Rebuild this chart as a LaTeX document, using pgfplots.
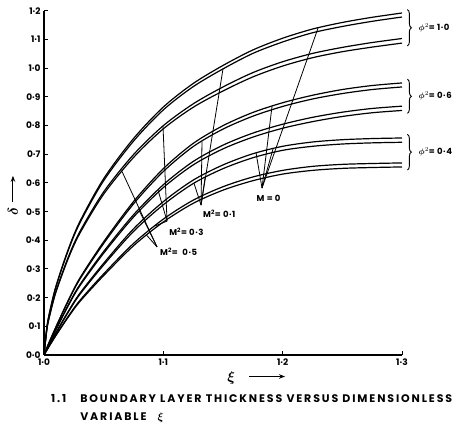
\documentclass[border=0pt]{standalone}
\usepackage{amsmath}
\usepackage{fontspec}
\setmainfont{Poppins}
\usepackage{pgfplots}
\usepackage{pgfplotstable}
\pgfplotsset{compat=1.18}
\usetikzlibrary{decorations.pathreplacing,arrows.meta}

% boundary layer thickness delta vs xi
% c1-c4: phi^2=1.0, c5-c8: phi^2=0.6, c9-c12: phi^2=0.4
\pgfplotstableread{
x      c1    c2    c3    c4    c5    c6    c7    c8    c9    c10   c11   c12
1.0    0     0     0     0     0     0     0     0     0     0     0     0
1.0025 0.100 0.099 0.093 0.091 0.026 0.026 0.024 0.023 0.020 0.020 0.018 0.017
1.005  0.155 0.153 0.143 0.141 0.051 0.050 0.047 0.046 0.040 0.039 0.035 0.035
1.01   0.240 0.237 0.222 0.219 0.098 0.097 0.090 0.088 0.078 0.076 0.069 0.068
1.02   0.365 0.361 0.338 0.333 0.188 0.185 0.172 0.169 0.150 0.147 0.133 0.130
1.03   0.465 0.460 0.430 0.424 0.268 0.264 0.245 0.241 0.215 0.211 0.190 0.186
1.05   0.615 0.608 0.569 0.561 0.395 0.389 0.361 0.355 0.320 0.314 0.283 0.277
1.075  0.755 0.746 0.699 0.689 0.535 0.527 0.489 0.481 0.440 0.431 0.389 0.381
1.1    0.865 0.855 0.800 0.789 0.650 0.640 0.594 0.584 0.535 0.524 0.474 0.464
1.125  0.947 0.936 0.876 0.864 0.738 0.727 0.675 0.663 0.610 0.598 0.540 0.529
1.15   1.010 0.998 0.935 0.921 0.800 0.788 0.732 0.719 0.663 0.650 0.587 0.575
1.175  1.064 1.052 0.985 0.970 0.846 0.833 0.774 0.760 0.702 0.688 0.621 0.608
1.2    1.105 1.092 1.023 1.008 0.880 0.867 0.805 0.791 0.728 0.714 0.644 0.631
1.225  1.137 1.124 1.052 1.037 0.906 0.893 0.829 0.814 0.743 0.728 0.658 0.644
1.25   1.160 1.146 1.073 1.058 0.926 0.912 0.847 0.832 0.751 0.736 0.665 0.651
1.275  1.178 1.164 1.090 1.074 0.940 0.926 0.860 0.845 0.755 0.740 0.668 0.654
1.3    1.193 1.179 1.104 1.088 0.949 0.935 0.868 0.853 0.757 0.742 0.670 0.656
}\deltadata

\newfontfamily\capfont[LetterSpace=17]{Poppins}

\begin{document}
\begin{tikzpicture}[lab/.style={font=\fontsize{8.5}{10}\selectfont\bfseries\addfontfeatures{LetterSpace=6}, inner sep=1pt}]
\begin{axis}[
  scale only axis, width=358pt, height=344pt,
  xmin=1, xmax=1.3, ymin=0, ymax=1.2,
  axis x line=bottom, axis y line=left,
  axis line style={-, line width=1.3pt},
  xtick={1,1.1,1.2,1.3}, xticklabels={1·0,1·1,1·2,1·3},
  ytick={0,0.1,0.2,0.3,0.4,0.5,0.6,0.7,0.8,0.9,1.0,1.1,1.2},
  yticklabels={0·0,0·1,0·2,0·3,0·4,0·5,0·6,0·7,0·8,0·9,1·0,1·1,1·2},
  tick align=inside, major tick length=4pt,
  tick style={black, line width=1pt},
  tick label style={font=\fontsize{9}{10}\selectfont\bfseries},
  clip=false,
  cycle list={{black, solid}},
  every axis plot/.append style={line width=1.2pt, no markers, smooth, tension=0.5},
]
\foreach \c in {c1,c2,c3,c4,c5,c6,c7,c8,c9,c10,c11,c12}{
  \addplot table[x=x, y=\c]{\deltadata};
}

% leader lines
\begin{scope}[line width=0.8pt]
% M = 0
\draw (axis cs:1.1827,0.5825) -- (axis cs:1.1777,0.705);
\draw (axis cs:1.1827,0.5825) -- (axis cs:1.1920,0.720);
\draw (axis cs:1.1827,0.5825) -- (axis cs:1.1911,0.868);
\draw (axis cs:1.1827,0.5825) -- (axis cs:1.2297,1.141);
% M^2 = 0.1
\draw (axis cs:1.1316,0.523) -- (axis cs:1.1257,0.599);
\draw (axis cs:1.1316,0.523) -- (axis cs:1.1350,0.619);
\draw (axis cs:1.1316,0.523) -- (axis cs:1.1324,0.745);
\draw (axis cs:1.1316,0.523) -- (axis cs:1.1500,0.998);
% M^2 = 0.3
\draw (axis cs:1.1031,0.467) -- (axis cs:1.0997,0.800);
\draw (axis cs:1.1031,0.467) -- (axis cs:1.0955,0.576);
\draw (axis cs:1.1031,0.467) -- (axis cs:1.0930,0.450);
% M^2 = 0.5
\draw (axis cs:1.0947,0.377) -- (axis cs:1.0654,0.640);
\draw (axis cs:1.0947,0.377) -- (axis cs:1.0800,0.502);
\draw (axis cs:1.0947,0.377) -- (axis cs:1.0860,0.418);
\end{scope}

\node[lab] at (axis cs:1.1882,0.546) {M = 0};
\node[lab, anchor=west] at (axis cs:1.1324,0.492) {M\textsuperscript{2}= 0·1};
\node[lab, anchor=west] at (axis cs:1.1040,0.430) {M\textsuperscript{2}= 0·3};
\node[lab, anchor=west] at (axis cs:1.0964,0.360) {M\textsuperscript{2}=~ 0·5};

% braces and phi labels
\begin{scope}[line width=0.9pt, decoration={brace, amplitude=4pt}]
\draw[decorate] (axis cs:1.3045,1.205) -- (axis cs:1.3045,1.078);
\draw[decorate] (axis cs:1.3045,0.962) -- (axis cs:1.3045,0.843);
\draw[decorate] (axis cs:1.3045,0.770) -- (axis cs:1.3045,0.645);
\end{scope}
\node[lab, anchor=west] at (axis cs:1.313,1.14) {$\boldsymbol{\phi}^{2}$= 1·0};
\node[lab, anchor=west] at (axis cs:1.313,0.905) {$\boldsymbol{\phi}^{2}$= 0·6};
\node[lab, anchor=west] at (axis cs:1.313,0.708) {$\boldsymbol{\phi}^{2}$= 0·4};

% axis labels
\node[rotate=90, font=\Large] at (axis cs:0.974,0.500) {$\boldsymbol{\delta}$};
\draw[-{Stealth[length=6pt]}, line width=1pt] (axis cs:0.974,0.534) -- (axis cs:0.974,0.625);
\node[font=\Large] at (axis cs:1.157,-0.080) {$\boldsymbol{\xi}$};
\draw[-{Stealth[length=6pt]}, line width=1pt] (axis cs:1.172,-0.075) -- (axis cs:1.202,-0.075);

% caption
\node[anchor=west, font=\fontsize{11}{13}\capfont\bfseries] at (axis cs:1.003,-0.1535) {1.1};
\node[anchor=west, font=\fontsize{11}{13}\capfont\bfseries] at (axis cs:1.0275,-0.1535) {BOUNDARY LAYER THICKNESS VERSUS DIMENSIONLESS};
\node[anchor=west, font=\fontsize{11}{13}\capfont\bfseries] at (axis cs:1.0275,-0.218) {VARIABLE\quad$\boldsymbol{\xi}$};
\end{axis}
\path (current axis.south west) ++(-44pt,-72pt) rectangle ++(461pt,427pt);
\end{tikzpicture}
\end{document}
